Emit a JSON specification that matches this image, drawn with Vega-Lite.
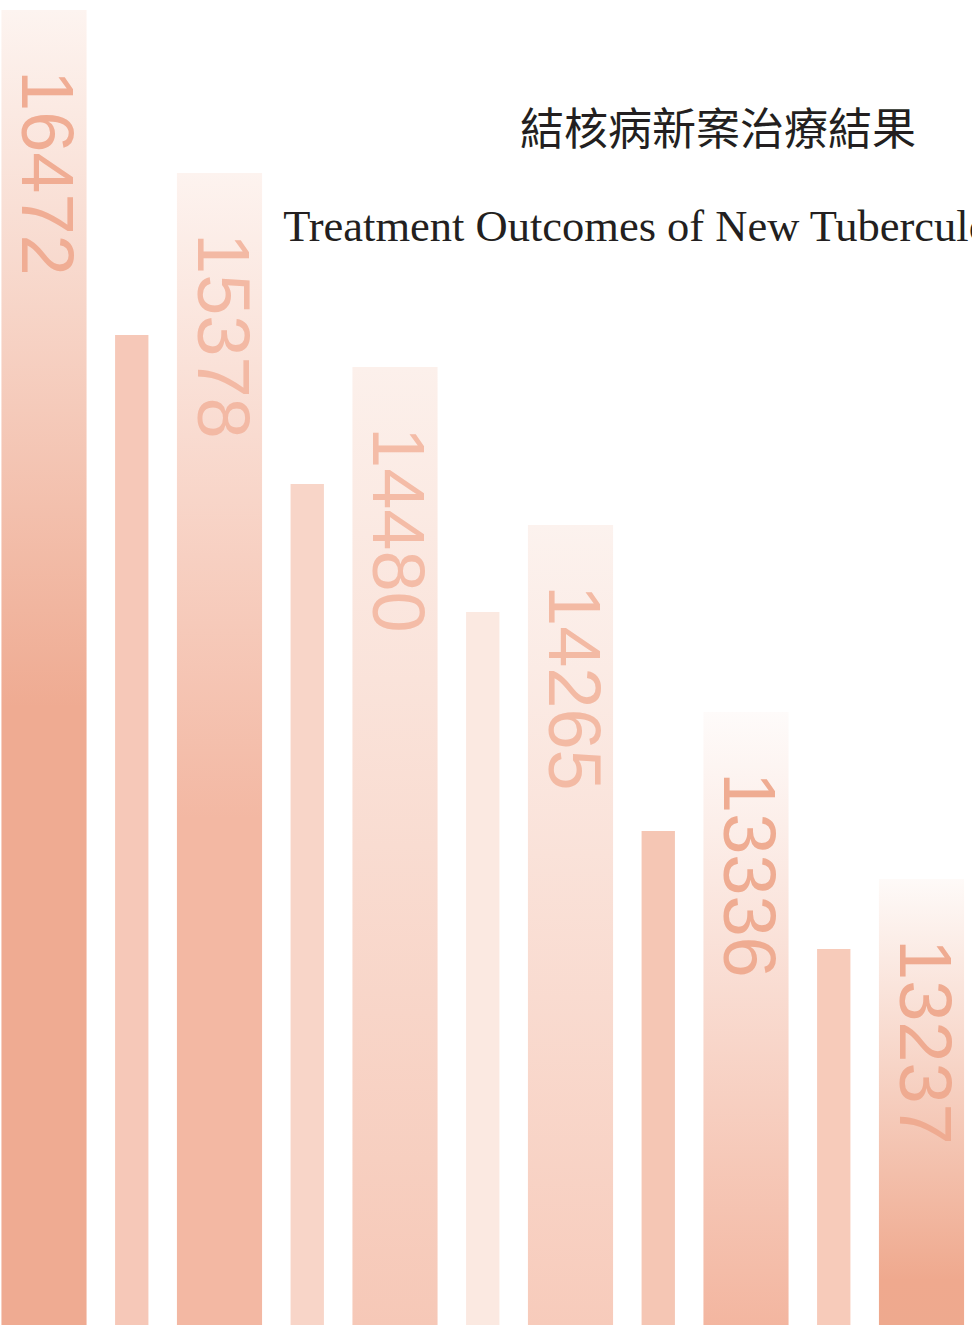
{
  "$schema": "https://vega.github.io/schema/vega-lite/v6.json",
  "width": 972,
  "height": 1325,
  "padding": 0,
  "autosize": {"type": "none"},
  "background": "white",
  "config": {"view": {"stroke": null}},
  "title": {
    "text": "結核病新案治療結果",
    "subtitle": "Treatment Outcomes of New Tuberculosis Cases",
    "anchor": "middle",
    "frame": "group",
    "orient": "top",
    "dx": 232,
    "offset": -249,
    "font": "Noto Sans CJK TC",
    "fontSize": 44,
    "fontWeight": "normal",
    "color": "#231f20",
    "subtitleFont": "Liberation Serif",
    "subtitleFontSize": 44.5,
    "subtitleColor": "#231f20",
    "subtitlePadding": 52
  },
  "datasets": {
    "wide": [
      {"group": "1", "height": 1315, "label": "16472"},
      {"group": "2", "height": 1152, "label": "15378"},
      {"group": "3", "height": 958, "label": "14480"},
      {"group": "4", "height": 800, "label": "14265"},
      {"group": "5", "height": 613, "label": "13336"},
      {"group": "6", "height": 446, "label": "13237"}
    ],
    "thin": [
      {"group": "1", "height": 990},
      {"group": "2", "height": 841},
      {"group": "3", "height": 713},
      {"group": "4", "height": 494},
      {"group": "5", "height": 376}
    ]
  },
  "layer": [
    {
      "data": {"name": "wide"},
      "mark": {"type": "bar", "width": {"band": 0.485}},
      "encoding": {
        "x": {"field": "group", "type": "nominal", "axis": null,
              "scale": {"domain": ["1", "2", "3", "4", "5", "6"], "range": [-43.75, 1009.25], "paddingInner": 0, "paddingOuter": 0}},
        "y": {"field": "height", "type": "quantitative", "axis": null, "scale": {"domain": [0, 1325], "nice": false, "zero": true}},
        "fill": {
          "condition": [
            {"test": "datum.group === '1'", "value": {"gradient": "linear", "x1": 0, "y1": 0, "x2": 0, "y2": 1, "stops": [{"offset": 0, "color": "#fdf4f0"}, {"offset": 0.53, "color": "#efab92"}, {"offset": 1, "color": "#efab92"}]}},
            {"test": "datum.group === '2'", "value": {"gradient": "linear", "x1": 0, "y1": 0, "x2": 0, "y2": 1, "stops": [{"offset": 0, "color": "#fdf3ef"}, {"offset": 0.56, "color": "#f3b8a3"}, {"offset": 1, "color": "#f3b8a3"}]}},
            {"test": "datum.group === '3'", "value": {"gradient": "linear", "x1": 0, "y1": 0, "x2": 0, "y2": 1, "stops": [{"offset": 0, "color": "#fcf0eb"}, {"offset": 1, "color": "#f6c8b7"}]}},
            {"test": "datum.group === '4'", "value": {"gradient": "linear", "x1": 0, "y1": 0, "x2": 0, "y2": 1, "stops": [{"offset": 0, "color": "#fcf2ee"}, {"offset": 1, "color": "#f7cbbb"}]}},
            {"test": "datum.group === '5'", "value": {"gradient": "linear", "x1": 0, "y1": 0, "x2": 0, "y2": 1, "stops": [{"offset": 0, "color": "#fefbfa"}, {"offset": 1, "color": "#f3b6a0"}]}},
            {"test": "datum.group === '6'", "value": {"gradient": "linear", "x1": 0, "y1": 0, "x2": 0, "y2": 1, "stops": [{"offset": 0, "color": "#fefaf8"}, {"offset": 0.9, "color": "#efa98e"}, {"offset": 1, "color": "#eea98e"}]}}
          ],
          "value": "#f3b8a3"
        }
      }
    },
    {
      "data": {"name": "thin"},
      "mark": {"type": "bar", "width": {"band": 0.19}, "xOffset": 87.75},
      "encoding": {
        "x": {"field": "group", "type": "nominal", "axis": null},
        "y": {"field": "height", "type": "quantitative", "axis": null},
        "color": {"field": "group", "type": "nominal", "legend": null,
                  "scale": {"domain": ["1", "2", "3", "4", "5"], "range": ["#f6c8b8", "#f8d5c8", "#fbe9e1", "#f5c6b4", "#f7cbba"]}}
      }
    },
    {
      "data": {"name": "wide"},
      "mark": {"type": "text", "angle": 90, "align": "left", "baseline": "middle", "dx": 60, "font": "Liberation Sans", "fontSize": 74},
      "encoding": {
        "x": {"field": "group", "type": "nominal", "axis": null},
        "y": {"field": "height", "type": "quantitative", "axis": null},
        "text": {"field": "label"},
        "color": {"field": "group", "type": "nominal", "legend": null,
                  "scale": {"domain": ["1", "2", "3", "4", "5", "6"], "range": ["#f0ad94", "#f3b9a4", "#f4bca7", "#f3baa4", "#efac92", "#efab91"]}}
      }
    }
  ],
  "resolve": {"scale": {"color": "independent"}}
}
